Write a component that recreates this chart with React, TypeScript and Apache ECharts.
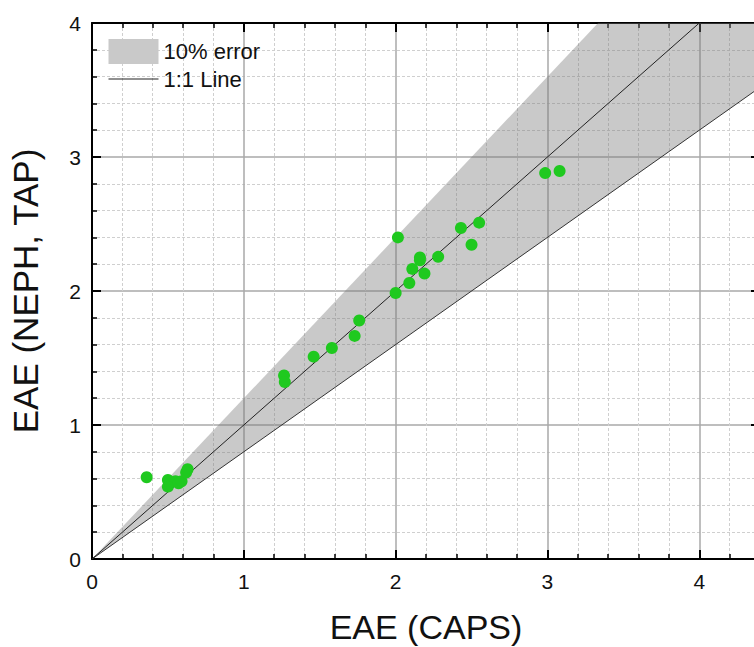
import React, { useEffect, useRef } from "react";
import * as echarts from "echarts";

// EAE measured by CAPS (x) against EAE derived from NEPH + TAP (y)
const eaeCaps = [
  0.36, 0.5, 0.55, 0.5, 0.57, 0.59, 0.63, 0.62,
  1.265, 1.27, 1.46, 1.58, 1.73, 1.76,
  2.0, 2.015, 2.09, 2.11, 2.16, 2.16, 2.19, 2.28,
  2.43, 2.55, 2.5, 2.985, 3.08,
];
const eaeNephTap = [
  0.61, 0.59, 0.58, 0.54, 0.565, 0.58, 0.67, 0.645,
  1.37, 1.32, 1.51, 1.575, 1.665, 1.78,
  1.985, 2.4, 2.06, 2.165, 2.25, 2.23, 2.13, 2.255,
  2.47, 2.51, 2.345, 2.88, 2.895,
];

// reference lines: 1:1 and the error envelope (0.8x .. 1.2x)
const oneToOneLine = [
  [0, 0],
  [4.4, 4.4],
];
const bandUpper = [
  [0, 0],
  [4.4, 5.28],
];
const bandLower = [
  [0, 0],
  [4.4, 3.52],
];

const xTicks = { min: 0, max: 4.4, interval: 1 };
const yTicks = { min: 0, max: 4, interval: 1 };

const FONT = 'Arial, "Liberation Sans", Helvetica, sans-serif';
const BAND_FILL = "rgba(120,120,120,0.4)";
const BAND_LEGEND = "#c9c9c9";
const DOT_GREEN = "#1fc91f";

function axisBase(showLabels: boolean) {
  return {
    type: "value" as const,
    axisLine: { show: true, onZero: false, lineStyle: { color: "#000", width: 2 } },
    axisTick: { show: true, inside: true, length: 9, lineStyle: { color: "#000", width: 2 } },
    minorTick: { show: true, splitNumber: 5, length: 5, lineStyle: { color: "#000", width: 1.5 } },
    axisLabel: {
      show: showLabels,
      fontSize: 21,
      color: "#111",
      fontFamily: FONT,
    },
  };
}

export default function App() {
  const ref = useRef<HTMLDivElement>(null);

  useEffect(() => {
    if (!ref.current) return;
    const chart = echarts.init(ref.current, undefined, { renderer: "svg" });
    const points = eaeCaps.map((x, i) => [x, eaeNephTap[i]]);

    chart.setOption({
      animation: false,
      backgroundColor: "#fff",
      grid: {
        left: 92,
        top: 23,
        right: 10,
        bottom: 88,
        containLabel: false,
        outerBoundsMode: "none",
      },
      legend: {
        orient: "vertical",
        left: 103,
        top: 34,
        itemWidth: 50,
        itemHeight: 25,
        itemGap: 4,
        selectedMode: false,
        textStyle: { fontSize: 22, color: "#111", fontFamily: FONT },
        data: [
          { name: "10% error", icon: "rect", itemStyle: { color: BAND_LEGEND } },
          {
            name: "1:1 Line",
            itemStyle: { opacity: 0 },
            lineStyle: { color: "#222", width: 1 },
          },
        ],
      },
      xAxis: [
        {
          ...axisBase(true),
          ...xTicks,
          position: "bottom",
          axisLabel: { ...axisBase(true).axisLabel, margin: 12, showMaxLabel: false },
          splitLine: { show: true, lineStyle: { color: "#a8a8a8", width: 1.5 } },
          minorSplitLine: { show: true, lineStyle: { color: "#cfcfcf", width: 1, type: [3, 2] } },
          name: "EAE (CAPS)",
          nameLocation: "middle",
          nameGap: 51,
          nameTextStyle: { fontSize: 34, color: "#111", fontFamily: FONT },
        },
        {
          ...axisBase(false),
          ...xTicks,
          position: "top",
          splitLine: { show: false },
        },
      ],
      yAxis: [
        {
          ...axisBase(true),
          ...yTicks,
          position: "left",
          axisLabel: { ...axisBase(true).axisLabel, margin: 11 },
          splitLine: { show: true, lineStyle: { color: "#a8a8a8", width: 1.5 } },
          minorSplitLine: { show: true, lineStyle: { color: "#cfcfcf", width: 1, type: [3, 2] } },
          name: "EAE (NEPH, TAP)",
          nameLocation: "middle",
          nameGap: 49,
          nameTextStyle: { fontSize: 35, color: "#111", fontFamily: FONT },
        },
        {
          ...axisBase(false),
          ...yTicks,
          position: "right",
          splitLine: { show: false },
        },
      ],
      series: [
        {
          name: "10% error",
          type: "custom",
          clip: true,
          silent: true,
          z: 1,
          itemStyle: { color: BAND_LEGEND },
          data: [[0, 0]],
          renderItem: (_params: any, api: any) => {
            const pts = [
              ...bandUpper.map((p) => api.coord(p)),
              ...bandLower
                .slice()
                .reverse()
                .map((p) => api.coord(p)),
            ];
            return {
              type: "polygon",
              shape: { points: pts },
              style: { fill: BAND_FILL, stroke: "none" },
            };
          },
        },
        {
          name: "lower bound",
          type: "line",
          data: bandLower,
          symbol: "none",
          silent: true,
          z: 2,
          lineStyle: { color: "#333", width: 1 },
        },
        {
          name: "1:1 Line",
          type: "line",
          data: oneToOneLine,
          symbol: "none",
          silent: true,
          z: 3,
          lineStyle: { color: "#222", width: 1 },
          itemStyle: { color: "#222" },
        },
        {
          name: "EAE",
          type: "scatter",
          data: points,
          symbol: "circle",
          symbolSize: 12,
          z: 4,
          itemStyle: { color: DOT_GREEN, opacity: 1 },
        },
      ],
    });

    return () => chart.dispose();
  }, []);

  return (
    <div
      style={{
        position: "fixed",
        left: 0,
        top: 0,
        width: 754,
        height: 647,
        overflow: "hidden",
        background: "#fff",
      }}
    >
      <div ref={ref} style={{ width: 770, height: 647 }} />
    </div>
  );
}
